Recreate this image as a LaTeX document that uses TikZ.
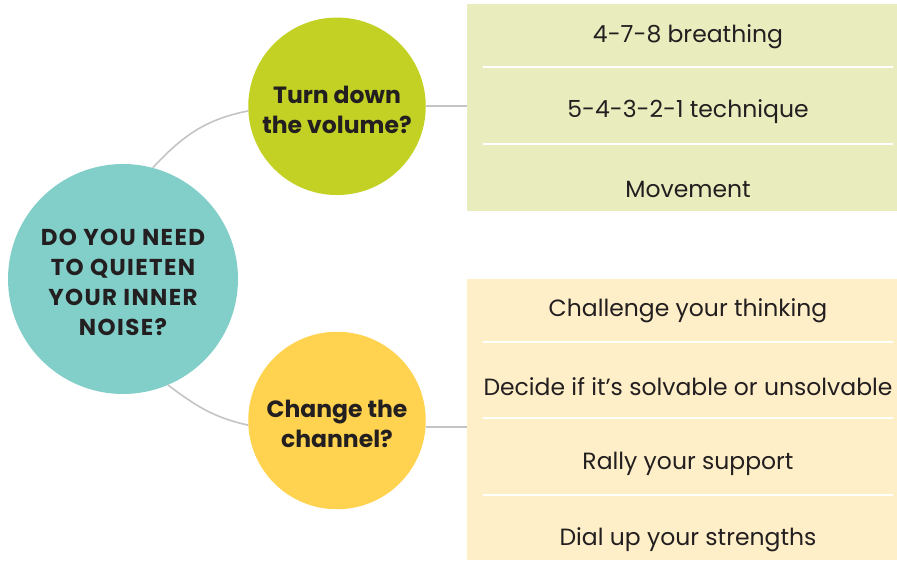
\documentclass[tikz,border=0pt]{standalone}
\usepackage{fontspec}
\setmainfont{Poppins}
\definecolor{quietteal}{HTML}{82CEC9}
\definecolor{volgreen}{HTML}{C2D124}
\definecolor{chanyellow}{HTML}{FFD34F}
\definecolor{volpale}{HTML}{E9EDBE}
\definecolor{chanpale}{HTML}{FEEFC8}
\definecolor{linkgrey}{HTML}{C4C4C6}
\definecolor{inkdark}{HTML}{231F20}
\tikzset{
  bubble/.style={circle, inner sep=0pt, align=center, text=inkdark,
    font=\bfseries\fontsize{23.5}{30}\selectfont},
  capsbubble/.style={bubble,
    font=\bfseries\fontsize{23}{30}\selectfont\addfontfeature{LetterSpace=6}},
  panel/.style={rectangle, inner sep=0pt},
  item/.style={text=inkdark, font=\fontsize{23.5}{28}\selectfont},
  link/.style={draw=linkgrey, line width=1.6pt},
  rule/.style={draw=white, line width=2pt},
}
\begin{document}
\begin{tikzpicture}[x=1pt,y=1pt]
    \useasboundingbox (0,0) rectangle (897,560);
    % the question and its two answers
    \node[capsbubble, fill=quietteal, minimum size=230pt] (Q) at (123,281){};
    \node[capsbubble, align=center] (Qtext) at (123,278){DO YOU NEED\\TO QUIETEN\\YOUR INNER\\NOISE?};
    \node[bubble, fill=volgreen, minimum size=177.5pt] (volume) at (337,453.7){};
    \node[bubble] (voltext) at (337,450){Turn down\\the volume?};
    \node[bubble, fill=chanyellow, minimum size=177.5pt] (channel) at (337,139.5){};
    \node[bubble] (chantext) at (337,136){Change the\\channel?};

    % panels holding the options
    \node[panel, fill=volpale, minimum width=430pt, minimum height=207pt] (volbox) at (682,452.5){};
    \node[panel, fill=chanpale, minimum width=430pt, minimum height=281pt] (chanbox) at (682,140.5){};

    \node[item] (breath) at (688,523){4-7-8 breathing};
    \node[item] (ground) at (688,448){5-4-3-2-1 technique};
    \node[item] (move) at (688,371){Movement};
    \node[item] (think) at (688,249){Challenge your thinking};
    \node[item] (solve) at (688,173){Decide if it’s solvable or unsolvable};
    \node[item] (rally) at (688,96){Rally your support};
    \node[item] (dial) at (688,20){Dial up your strengths};

    \coordinate (v1) at (483,493);
    \coordinate (v2) at (483,416);
    \coordinate (c1) at (483,218.3);
    \coordinate (c2) at (483,141.7);
    \coordinate (c3) at (483,65);
    \draw[rule] (v1) -- ([xshift=-4pt]v1 -| volbox.east);
    \draw[rule] (v2) -- ([xshift=-4pt]v2 -| volbox.east);
    \draw[rule] (c1) -- ([xshift=-4pt]c1 -| chanbox.east);
    \draw[rule] (c2) -- ([xshift=-4pt]c2 -| chanbox.east);
    \draw[rule] (c3) -- ([xshift=-4pt]c3 -| chanbox.east);

    % connectors
    \draw (Q.75) edge[link, out=47, in=191] (volume.183);
    \draw (Q.-67) edge[link, out=-37, in=167.5] (channel.183);
    \draw (volume.east) edge[link] (volume.east -| volbox.west);
    \draw (channel.-4.5) edge[link] (channel.-4.5 -| chanbox.west);
\end{tikzpicture}
\end{document}
